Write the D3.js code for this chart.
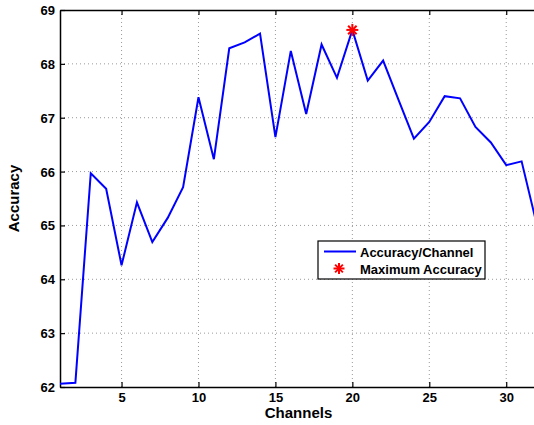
<!DOCTYPE html>
<html>
<head>
<meta charset="utf-8">
<script src="https://cdn.jsdelivr.net/npm/d3@7"></script>
<style>
  body { margin: 0; background: #fff; }
  svg text { font-family: "Liberation Sans", Arial, Helvetica, sans-serif; font-weight: bold; fill: #000; }
</style>
</head>
<body>
<div id="chart"></div>
<script>
// accuracy per number of channels
const channels = d3.range(1, 33);
const accuracy = [62.06, 62.08, 65.97, 65.68, 64.26, 65.43, 64.69, 65.14, 65.71, 67.38,
                  66.23, 68.29, 68.40, 68.56, 66.64, 68.24, 67.07, 68.36, 67.74, 68.63,
                  67.69, 68.06, 67.33, 66.61, 66.92, 67.40, 67.36, 66.83, 66.54, 66.12,
                  66.19, 65.00];
const xTicks = [5, 10, 15, 20, 25, 30];
const yTicks = [62, 63, 64, 65, 66, 67, 68, 69];
const legendLabels = ["Accuracy/Channel", "Maximum Accuracy"];

const width = 534, height = 425;
const margin = { left: 60, top: 10, right: -3, bottom: 38 };

const svg = d3.select("#chart").append("svg")
    .attr("width", width)
    .attr("height", height);

const xScale = d3.scaleLinear()
    .domain([1, 32])
    .range([margin.left, width - margin.right]);
const yScale = d3.scaleLinear()
    .domain([62, 69])
    .range([height - margin.bottom, margin.top]);

const x0 = xScale.range()[0], x1 = xScale.range()[1];
const y0 = yScale.range()[0], y1 = yScale.range()[1];

// grid
svg.append("g").selectAll("line.vx")
    .data(xTicks)
    .enter().append("line")
    .attr("x1", d => xScale(d)).attr("x2", d => xScale(d))
    .attr("y1", y1).attr("y2", y0)
    .attr("stroke", "#9a9a9a").attr("stroke-width", 1)
    .attr("stroke-dasharray", "1,3");
svg.append("g").selectAll("line.hy")
    .data(yTicks.slice(1, -1))
    .enter().append("line")
    .attr("x1", x0).attr("x2", x1)
    .attr("y1", d => yScale(d)).attr("y2", d => yScale(d))
    .attr("stroke", "#9a9a9a").attr("stroke-width", 1)
    .attr("stroke-dasharray", "1,3");

// axes (ticks pointing inward, like matlab)
const xAxis = d3.axisBottom(xScale).tickValues(xTicks).tickSizeInner(-5).tickSizeOuter(0).tickPadding(6)
    .tickFormat(d3.format("d"));
const yAxis = d3.axisLeft(yScale).tickValues(yTicks).tickSizeInner(-5).tickSizeOuter(0).tickPadding(5)
    .tickFormat(d3.format("d"));
const xTop = d3.axisTop(xScale).tickValues(xTicks).tickSizeInner(-5).tickSizeOuter(0).tickFormat("");

const gx = svg.append("g").attr("transform", "translate(0," + y0 + ")").call(xAxis);
const gy = svg.append("g").attr("transform", "translate(" + x0 + ",0)").call(yAxis);
const gt = svg.append("g").attr("transform", "translate(0," + y1 + ")").call(xTop);

[gx, gy, gt].forEach(g => {
    g.select(".domain").attr("stroke", "#000").attr("stroke-width", 1.5);
    g.selectAll(".tick line").attr("stroke", "#000").attr("stroke-width", 1.2);
    g.selectAll(".tick text").attr("font-size", 13).attr("font-weight", "bold")
        .attr("font-family", "Liberation Sans, Arial, sans-serif").attr("fill", "#000");
});
gy.selectAll(".tick text").attr("dy", "0.35em");

// axis titles
svg.append("text")
    .attr("x", (x0 + x1) / 2)
    .attr("y", 418)
    .attr("text-anchor", "middle")
    .attr("font-size", 15)
    .text("Channels");
svg.append("text")
    .attr("transform", "translate(19," + ((y0 + y1) / 2) + ") rotate(-90)")
    .attr("text-anchor", "middle")
    .attr("font-size", 15)
    .text("Accuracy");

// line
const line = d3.line()
    .x((d, i) => xScale(channels[i]))
    .y(d => yScale(d));

svg.append("path")
    .datum(accuracy)
    .attr("fill", "none")
    .attr("stroke", "#0000ff")
    .attr("stroke-width", 2)
    .attr("stroke-linejoin", "miter")
    .attr("d", line);

// max marker
function star(sel, cx, cy, r) {
    const g = sel.append("g").attr("transform", "translate(" + cx + "," + cy + ")")
        .attr("stroke", "#ff0000").attr("stroke-width", 2);
    const k = r * Math.SQRT1_2;
    g.append("line").attr("x1", -r).attr("x2", r).attr("y1", 0).attr("y2", 0);
    g.append("line").attr("x1", 0).attr("x2", 0).attr("y1", -r).attr("y2", r);
    g.append("line").attr("x1", -k).attr("x2", k).attr("y1", -k).attr("y2", k);
    g.append("line").attr("x1", -k).attr("x2", k).attr("y1", k).attr("y2", -k);
}
const maxIdx = d3.maxIndex(accuracy);
star(svg, xScale(channels[maxIdx]), yScale(accuracy[maxIdx]), 6);

// legend
const legend = svg.append("g").attr("transform", "translate(318,241)");
legend.append("rect")
    .attr("width", 167).attr("height", 38)
    .attr("fill", "#fff").attr("stroke", "#000").attr("stroke-width", 1.2);
legend.append("line")
    .attr("x1", 6).attr("x2", 38).attr("y1", 10.5).attr("y2", 10.5)
    .attr("stroke", "#0000ff").attr("stroke-width", 2);
star(legend, 21, 27.5, 5.5);
legend.selectAll("text.lg")
    .data(legendLabels)
    .enter().append("text")
    .attr("x", 42)
    .attr("y", (d, i) => 15.5 + i * 17)
    .attr("font-size", 13)
    .text(d => d);
</script>
</body>
</html>
